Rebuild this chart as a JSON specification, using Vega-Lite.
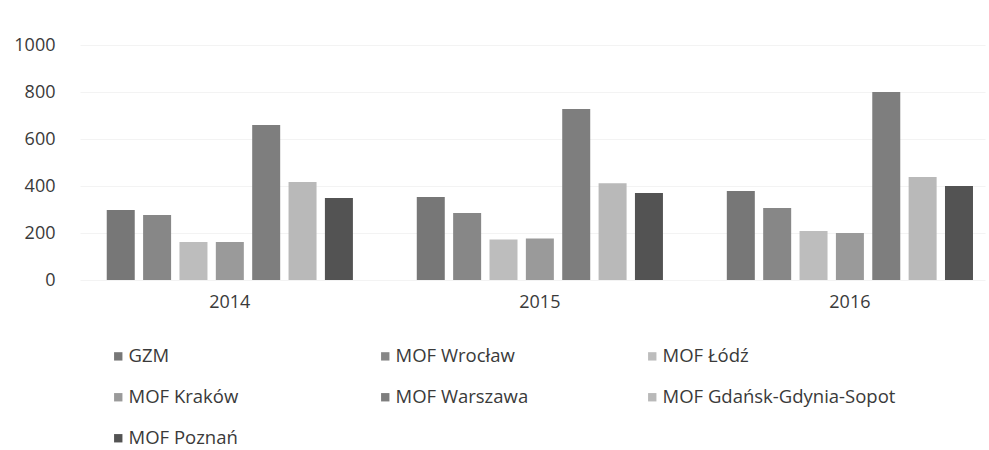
{
  "$schema": "https://vega.github.io/schema/vega-lite/v6.json",
  "width": 905,
  "height": 235,
  "autosize": "none",
  "padding": {"left": 80, "top": 45, "right": 4, "bottom": 170},
  "background": "white",
  "config": {
    "view": {"stroke": null},
    "font": "Open Sans",
    "axis": {"labelColor": "#3a3a3a", "labelFont": "Open Sans", "labelFontSize": 18},
    "legend": {"labelColor": "#3a3a3a", "labelFont": "Open Sans", "labelFontSize": 18.5}
  },
  "data": {
    "values": [
      {"year": "2014", "region": "GZM", "value": 298},
      {"year": "2014", "region": "MOF Wrocław", "value": 277},
      {"year": "2014", "region": "MOF Łódź", "value": 162},
      {"year": "2014", "region": "MOF Kraków", "value": 162},
      {"year": "2014", "region": "MOF Warszawa", "value": 660},
      {"year": "2014", "region": "MOF Gdańsk-Gdynia-Sopot", "value": 417},
      {"year": "2014", "region": "MOF Poznań", "value": 349},
      {"year": "2015", "region": "GZM", "value": 353},
      {"year": "2015", "region": "MOF Wrocław", "value": 285},
      {"year": "2015", "region": "MOF Łódź", "value": 172},
      {"year": "2015", "region": "MOF Kraków", "value": 177},
      {"year": "2015", "region": "MOF Warszawa", "value": 728},
      {"year": "2015", "region": "MOF Gdańsk-Gdynia-Sopot", "value": 412},
      {"year": "2015", "region": "MOF Poznań", "value": 370},
      {"year": "2016", "region": "GZM", "value": 379},
      {"year": "2016", "region": "MOF Wrocław", "value": 306},
      {"year": "2016", "region": "MOF Łódź", "value": 209},
      {"year": "2016", "region": "MOF Kraków", "value": 200},
      {"year": "2016", "region": "MOF Warszawa", "value": 800},
      {"year": "2016", "region": "MOF Gdańsk-Gdynia-Sopot", "value": 438},
      {"year": "2016", "region": "MOF Poznań", "value": 400}
    ]
  },
  "mark": {"type": "bar"},
  "encoding": {
    "x": {
      "field": "year",
      "type": "nominal",
      "title": null,
      "scale": {"paddingInner": 0.206, "paddingOuter": 0.0625, "align": 0.69},
      "axis": {"labelAngle": 0, "domain": false, "ticks": false, "labelPadding": 13, "grid": false}
    },
    "xOffset": {
      "field": "region",
      "type": "nominal",
      "scale": {
        "domain": ["GZM", "MOF Wrocław", "MOF Łódź", "MOF Kraków", "MOF Warszawa", "MOF Gdańsk-Gdynia-Sopot", "MOF Poznań"],
        "paddingInner": 0.23, "paddingOuter": 0
      }
    },
    "y": {
      "field": "value",
      "type": "quantitative",
      "title": null,
      "scale": {"domain": [0, 1000]},
      "axis": {"values": [0, 200, 400, 600, 800, 1000], "format": "d", "domain": false, "ticks": false, "labelPadding": 25, "gridColor": "#f3f3f3", "gridWidth": 1}
    },
    "color": {
      "field": "region",
      "type": "nominal",
      "scale": {
        "domain": ["GZM", "MOF Wrocław", "MOF Łódź", "MOF Kraków", "MOF Warszawa", "MOF Gdańsk-Gdynia-Sopot", "MOF Poznań"],
        "range": ["#777777", "#878787", "#bdbdbd", "#9a9a9a", "#7e7e7e", "#b9b9b9", "#535353"]
      },
      "legend": {
        "title": null,
        "orient": "none",
        "direction": "horizontal",
        "legendX": 29,
        "legendY": 302,
        "columns": 3,
        "gridAlign": "all",
        "columnPadding": 14,
        "rowPadding": 22,
        "labelLimit": 400,
        "symbolType": "square",
        "symbolSize": 70,
        "symbolStrokeWidth": 0,
        "labelOffset": 1
      }
    }
  }
}
